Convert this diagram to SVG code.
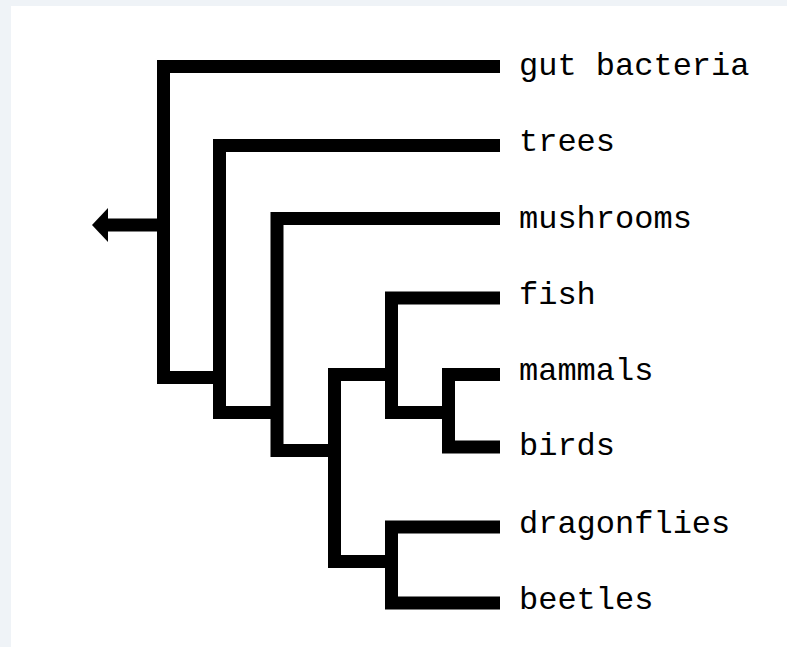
<svg xmlns="http://www.w3.org/2000/svg" width="787" height="647" viewBox="0 0 787 647">
<style>
.br{fill:none;stroke:#000;stroke-width:13;stroke-linejoin:miter;stroke-linecap:butt}
.lbl{font-family:"Liberation Mono","DejaVu Sans Mono",monospace;font-size:32px;fill:#000}
</style>
<rect x="0" y="0" width="787" height="647" fill="#eff3f7"/>
<rect x="11" y="6" width="776" height="641" fill="#ffffff"/>
<g id="connectors">
<path class="br" d="M500,66.5 H163.5 V377.5 H219.5"/>
<path class="br" d="M500,145.5 H219.5 V412.5 H277"/>
<path class="br" d="M500,218.5 H277 V450.5 H334.5"/>
<path class="br" d="M391.5,374.5 H334.5 V561.5 H391.5"/>
<path class="br" d="M500,298 H391.5 V412.5 H448.5"/>
<path class="br" d="M500,374.5 H448.5 V447 H500"/>
<path class="br" d="M500,527 H391.5 V603 H500"/>
<path class="br" d="M157,225 H106"/>
<polygon points="92,225 108,208 108,242" fill="#000"/>
</g>
<g id="gut-bacteria"><text class="lbl" x="519" y="75">gut bacteria</text></g>
<g id="trees"><text class="lbl" x="519" y="151">trees</text></g>
<g id="mushrooms"><text class="lbl" x="519" y="228">mushrooms</text></g>
<g id="fish"><text class="lbl" x="519" y="304">fish</text></g>
<g id="mammals"><text class="lbl" x="519" y="380">mammals</text></g>
<g id="birds"><text class="lbl" x="519" y="455">birds</text></g>
<g id="dragonflies"><text class="lbl" x="519" y="533">dragonflies</text></g>
<g id="beetles"><text class="lbl" x="519" y="609">beetles</text></g>
</svg>
